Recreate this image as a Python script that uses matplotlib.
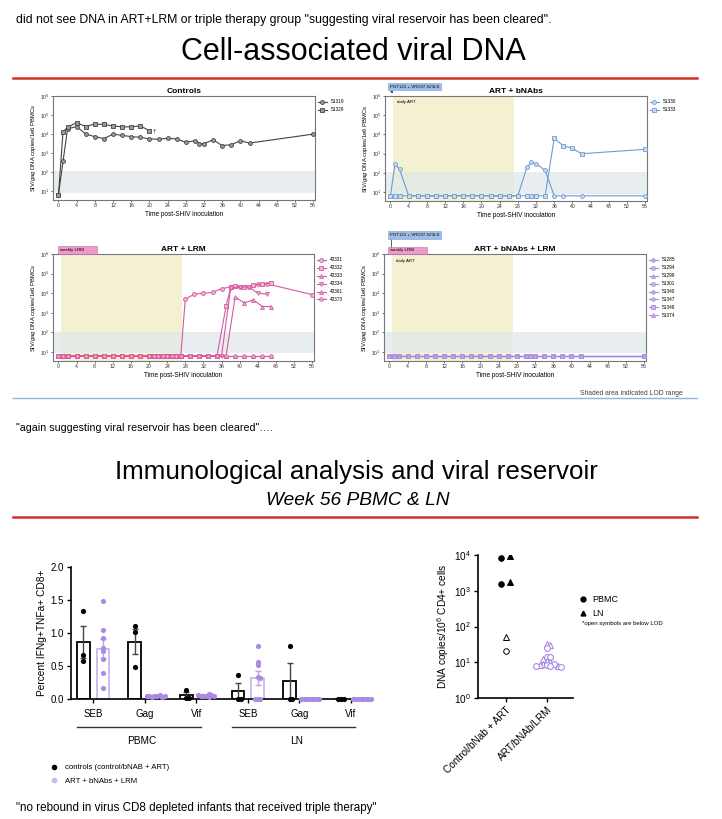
import numpy as np
import matplotlib.pyplot as plt
from matplotlib.lines import Line2D
from matplotlib.ticker import NullLocator

W, H = 722, 819
plt.rcParams['font.family'] = ['Liberation Sans', 'DejaVu Sans']
plt.rcParams['mathtext.fontset'] = 'custom'
plt.rcParams['mathtext.rm'] = 'Liberation Sans'
plt.rcParams['mathtext.it'] = 'Liberation Sans:italic'

LOD = 6.5  # value plotted for samples below detection

# ---- cell-associated viral DNA (copies / 1e6 PBMC) vs week ----
ctrl_ids = ['51319', '51329']
ctrl_weeks = [[0, 1, 2, 4, 6, 8, 10, 12, 14, 16, 18, 20, 22, 24, 26, 28, 30, 31, 32, 34, 36, 38, 40, 42, 56],
              [0, 1, 2, 4, 6, 8, 10, 12, 14, 16, 18, 20]]
ctrl_dna = [[LOD, 370, 1.9e4, 2.5e4, 1.0e4, 7.4e3, 5.8e3, 1.0e4, 8.6e3, 7.4e3, 6.8e3, 5.6e3, 5.4e3,
             6.0e3, 5.6e3, 3.7e3, 4.5e3, 3.2e3, 3.2e3, 5.0e3, 2.5e3, 2.8e3, 4.5e3, 3.4e3, 1.0e4],
            [LOD, 1.3e4, 2.3e4, 4.0e4, 2.5e4, 3.4e4, 3.2e4, 2.7e4, 2.4e4, 2.4e4, 2.7e4, 1.5e4]]

bnab_ids = ['51330', '51333']
bnab_weeks = [[0, 1, 2, 4, 6, 8, 10, 12, 14, 16, 18, 20, 22, 24, 26, 28, 30, 31, 32, 34, 36, 38, 42, 56],
              [0, 1, 2, 4, 6, 8, 10, 12, 14, 16, 18, 20, 22, 24, 26, 28, 30, 31, 32, 34, 36, 38, 40, 42, 56]]
bnab_dna = [[LOD, 300, 155, LOD, LOD, LOD, LOD, LOD, LOD, LOD, LOD, LOD, LOD, LOD, LOD, LOD,
             200, 360, 300, 137, LOD, LOD, LOD, LOD],
            [LOD, LOD, LOD, LOD, LOD, LOD, LOD, LOD, LOD, LOD, LOD, LOD, LOD, LOD, LOD, LOD,
             LOD, LOD, LOD, LOD, 6.3e3, 2.6e3, 1.9e3, 1.0e3, 1.7e3]]

lrm_ids = ['40331', '40332', '40333', '40334', '40361', '40373']
lrm_art_weeks = [0, 1, 2, 4, 6, 8, 10, 12, 14, 16, 18, 20, 21, 22, 23, 24, 25, 26, 27]  # all <LOD on ART
lrm_late_weeks = [[28, 30, 32, 34, 36, 38, 40, 42, 44, 46, 56],
                  [29, 31, 33, 35, 37, 38, 39, 41, 43, 45, 47],
                  [29, 31, 33, 35, 37, 39, 41, 43, 45, 47],
                  [29, 31, 33, 35, 36, 38, 40, 42, 44, 46],
                  [29, 31, 33, 35, 37, 39, 41, 43, 45, 47],
                  [29, 31, 33, 35, 37, 39, 41, 43, 45, 47]]
lrm_late_dna = [[5.0e3, 9.0e3, 1.0e4, 1.1e4, 1.7e4, 2.1e4, 2.0e4, 2.2e4, 2.8e4, 3.0e4, 8.5e3],
                [LOD, LOD, LOD, LOD, 2.2e3, 2.0e4, 2.4e4, 2.0e4, 2.6e4, 2.9e4, 3.3e4],
                [LOD, LOD, LOD, LOD, LOD, 6.5e3, 3.2e3, 4.6e3, 2.1e3, 2.1e3],
                [LOD, LOD, LOD, LOD, LOD, 1.8e4, 2.1e4, 2.1e4, 1.0e4, 9.0e3],
                [LOD, LOD, LOD, LOD, LOD, LOD, LOD, LOD, LOD, LOD],
                [LOD, LOD, LOD, LOD, LOD, LOD, LOD, LOD, LOD, LOD]]

triple_ids = ['51285', '51294', '51299', '51301', '51340', '51347', '51348', '51374']
triple_weeks = [0, 1, 2, 4, 6, 8, 10, 12, 14, 16, 18, 20, 22, 24, 26, 28, 30, 31, 32, 34, 36, 38, 40, 42, 56]
# every triple-therapy animal stayed below LOD at every visit

# ---- week 56 CD8 responses (% IFNg+TNFa+ CD8+) ----
stim_labels = ['SEB', 'Gag', 'Vif', 'SEB', 'Gag', 'Vif']
tissues = ['PBMC', 'LN']
ctrl_resp = [[1.34, 0.66, 0.58], [1.10, 1.02, 0.49], [0.14, 0.02, 0.02],
             [0.37, 0.0, 0.0], [0.81, 0.0, 0.0], [0.0, 0.0, 0.0]]
triple_resp = [[1.48, 1.05, 0.93, 0.77, 0.73, 0.60, 0.39, 0.17],
               [0.04, 0.05, 0.03, 0.06, 0.04, 0.03, 0.05, 0.04],
               [0.05, 0.07, 0.04, 0.06, 0.03, 0.05, 0.04, 0.06],
               [0.81, 0.56, 0.51, 0.34, 0.32, 0.0, 0.0, 0.0],
               [0.0, 0.0, 0.0, 0.0, 0.0, 0.0, 0.0, 0.0],
               [0.0, 0.0, 0.0, 0.0, 0.0, 0.0, 0.0, 0.0]]

# ---- week 56 reservoir (DNA copies / 1e6 CD4+) ----
res_groups = ['Control/bNab + ART', 'ART/bNAb/LRM']
ctrl_pbmc = [8.1e3, 1.5e3, 20]
ctrl_pbmc_below = [False, False, True]
ctrl_ln = [9.3e3, 1.8e3, 52]
ctrl_ln_below = [False, False, True]
tri_pbmc = [25, 14, 14, 9, 8.5, 8, 7.8, 7.5]
tri_ln = [32, 31, 12, 11, 10, 9, 8.5, 8]

BLUE = '#6f9bd3'
PINK = '#d6589f'
PURPLE = '#a98be3'
LIGHT_PURPLE = '#c9b7f0'
ART_YELLOW = '#f4f1d2'
LOD_BAND = '#dfe8eb'
RED = '#d2302c'

fig = plt.figure(figsize=(W / 100, H / 100), dpi=100)
fig.patch.set_facecolor('white')


def px_axes(x0, y0, x1, y1):
    return fig.add_axes([x0 / W, 1 - y1 / H, (x1 - x0) / W, (y1 - y0) / H])


def fx(x):
    return x / W


def fy(y):
    return 1 - y / H


def swarm(vals, to_px, d):
    # tiny beeswarm: push markers sideways (px) until they stop overlapping
    placed, offs = [], []
    for v in vals:
        y = to_px(v)
        for k in [0, 1, -1, 2, -2, 3, -3, 4, -4, 5, -5, 6, -6]:
            x = k * d
            if all((x - a) ** 2 + (y - b) ** 2 >= 0.99 * d * d for a, b in placed):
                break
        placed.append((x, y))
        offs.append(x)
    return np.array(offs)


def dna_panel(ax, title, series, color, face, art=False):
    if art:
        ax.axvspan(0.6, 27.2, color=ART_YELLOW, lw=0, zorder=0)
    ax.axhspan(8.5, 110, color=LOD_BAND, alpha=0.7, lw=0, zorder=0.5)
    for name, wk, vals, mk in series:
        ax.plot(wk, vals, marker=mk, ms=2.8, lw=0.8, color=color, mfc=face, mec=color,
                mew=0.6, label=name, clip_on=False, zorder=3)
    ax.set_yscale('log')
    ax.set_ylim(3.5, 1e6)
    ax.set_xlim(-1.2, 56.4)
    ax.set_xticks(range(0, 57, 4))
    ax.set_yticks([10, 1e2, 1e3, 1e4, 1e5, 1e6])
    ax.yaxis.set_minor_locator(NullLocator())
    ax.tick_params(labelsize=3.8, length=1.5, width=0.5, pad=1, colors='#333')
    ax.set_title(title, fontsize=6, fontweight='bold', pad=2)
    ax.set_xlabel('Time post-SHIV inoculation', fontsize=4.7, labelpad=1.5)
    ax.set_ylabel('SIV/$\\it{gag}$ DNA copies/1e6 PBMCs', fontsize=4.2, labelpad=1)
    for s in ax.spines.values():
        s.set_color('#777')
        s.set_linewidth(0.8)
    ax.legend(loc='upper left', bbox_to_anchor=(1.005, 0.985), frameon=False, fontsize=3.4,
              handlelength=1.8, labelspacing=0.62, borderaxespad=0)


def tag(x, y, text, fc, ec):
    fig.text(fx(x), fy(y), text, fontsize=3.2, va='center', ha='left',
             bbox=dict(boxstyle='square,pad=0.35', fc=fc, ec=ec, lw=0.4))


# ---------------- free text and slide headings ----------------
fig.text(fx(16), fy(20), 'did not see DNA in ART+LRM or triple therapy group "suggesting viral reservoir has been cleared".',
         fontsize=8.8, va='center')
fig.text(fx(353), fy(52), 'Cell-associated viral DNA', fontsize=22, ha='center', va='center')
fig.add_artist(Line2D([fx(13), fx(697)], [fy(78), fy(78)], color=RED, lw=1.8))

# ---------------- four DNA panels ----------------
ax1 = px_axes(53, 96, 315, 200)
dna_panel(ax1, 'Controls',
          [(ctrl_ids[0], ctrl_weeks[0], ctrl_dna[0], 'o'),
           (ctrl_ids[1], ctrl_weeks[1], ctrl_dna[1], 's')],
          '#444', '#9a9a9a')
ax1.text(ctrl_weeks[1][-1] + 0.8, ctrl_dna[1][-1], '\u2020', fontsize=4.5, va='center')

ax2 = px_axes(385, 96, 647, 201)
dna_panel(ax2, 'ART + bNAbs',
          [(bnab_ids[0], bnab_weeks[0], bnab_dna[0], 'o'),
           (bnab_ids[1], bnab_weeks[1], bnab_dna[1], 's')],
          BLUE, '#c9dbf1', art=True)
ax2.text(1.4, 5e5, 'daily ART', fontsize=3.2, va='center')
tag(390, 86.5, 'PGT121 + VRC07-523LS', '#9dbde6', '#7aa2d6')
ax2.annotate('', xy=(0.7, 1e6), xytext=(fx(391), fy(90)), textcoords='figure fraction',
             arrowprops=dict(arrowstyle='-|>', lw=0.5, color='#222', mutation_scale=3))

ax3 = px_axes(53, 254, 314, 361)
lrm_markers = ['o', 's', '^', 'v', '^', 'h']
dna_panel(ax3, 'ART + LRM',
          [(lrm_ids[i], lrm_art_weeks + lrm_late_weeks[i], [LOD] * len(lrm_art_weeks) + lrm_late_dna[i],
            lrm_markers[i]) for i in range(len(lrm_ids))],
          PINK, '#efb3d4', art=True)
tag(60, 250, 'weekly LRM         ', '#ec9bcb', '#c86aa5')

ax4 = px_axes(384, 254, 646, 361)
triple_markers = ['P', 'o', '^', 'o', 'P', 'h', 's', '^']
dna_panel(ax4, 'ART + bNAbs + LRM',
          [(triple_ids[i], triple_weeks, [LOD] * len(triple_weeks), triple_markers[i])
           for i in range(len(triple_ids))],
          PURPLE, '#cbb9f2', art=True)
ax4.text(1.4, 4.2e5, 'daily ART', fontsize=3.2, va='center')
tag(390, 235, 'PGT121 + VRC07-523LS', '#9dbde6', '#7aa2d6')
tag(390, 250.5, 'weekly LRM         ', '#ec9bcb', '#c86aa5')
fig.add_artist(Line2D([fx(391), fx(391)], [fy(238), fy(247)], color='#222', lw=0.5))

fig.text(fx(683), fy(393), 'Shaded area indicated LOD range', fontsize=4.9, ha='right', va='center', color='#444')
fig.add_artist(Line2D([fx(13), fx(697)], [fy(398), fy(398)], color='#8db6da', lw=1))

# ---------------- second slide ----------------
fig.text(fx(16), fy(428), '"again suggesting viral reservoir has been cleared"\u2026.', fontsize=7.7, va='center')
fig.text(fx(356), fy(472), 'Immunological analysis and viral reservoir', fontsize=18.7, ha='center', va='center')
fig.text(fx(358), fy(500), 'Week 56 PBMC & LN', fontsize=13.8, ha='center', va='center', style='italic')
fig.add_artist(Line2D([fx(13), fx(697)], [fy(517), fy(517)], color=RED, lw=1.8))

# bar chart: % IFNg+TNFa+ CD8+
axb = px_axes(71, 567, 373, 699)
x = np.arange(len(stim_labels))
bw = 0.25
dx = 0.19
xpx = 51.6   # px per category
ypx = 66.0   # px per unit
for i in range(len(stim_labels)):
    for pts, off, col, ecol, fcol in [(ctrl_resp[i], -dx, 'black', '#444', 'black'),
                                      (triple_resp[i], dx, LIGHT_PURPLE, '#b7a4e6', PURPLE)]:
        pts = np.array(pts)
        m = pts.mean()
        sem = pts.std(ddof=1) / np.sqrt(len(pts))
        axb.bar(x[i] + off, m, width=bw, facecolor='white', edgecolor=col, lw=1.3, zorder=2)
        if m > 0.02:
            axb.errorbar(x[i] + off, m, yerr=sem, fmt='none', ecolor=ecol, elinewidth=1,
                         capsize=2.5, capthick=1, zorder=3)
        offs = swarm(pts, lambda v: v * ypx, 2.6) / xpx
        axb.scatter(x[i] + off + offs, pts, s=14, color=fcol, zorder=4, clip_on=False, lw=0)

axb.set_xlim(-0.43, 5.43)
axb.set_ylim(0, 2.0)
axb.set_yticks([0, 0.5, 1.0, 1.5, 2.0])
axb.set_yticklabels(['0.0', '0.5', '1.0', '1.5', '2.0'])
axb.set_xticks(x)
axb.set_xticklabels(stim_labels)
axb.tick_params(labelsize=7, length=3, width=1, pad=2)
axb.tick_params(axis='x', pad=4)
axb.spines[['top', 'right']].set_visible(False)
for s in ['left', 'bottom']:
    axb.spines[s].set_linewidth(1.2)
axb.set_ylabel('Percent IFNg+TNFa+ CD8+', fontsize=7.3, labelpad=3)
tr = axb.get_xaxis_transform()
for j, name in enumerate(tissues):
    lo, hi = 3 * j - 0.31, 3 * j + 2.09
    axb.plot([lo, hi], [-0.21, -0.21], color='#333', lw=1, transform=tr, clip_on=False)
    axb.text((lo + hi) / 2 + 0.05, -0.32, name, transform=tr, ha='center', va='center', fontsize=7.3)

handles = [Line2D([], [], ls='none', marker='o', ms=3, color='black'),
           Line2D([], [], ls='none', marker='o', ms=3, color=LIGHT_PURPLE)]
fig.legend(handles, ['controls (control/bNAB + ART)', 'ART + bNAbs + LRM'], loc='upper left',
           bbox_to_anchor=(fx(42), fy(757)), frameon=False, fontsize=5.6, handlelength=1.2,
           handletextpad=0.8, labelspacing=0.8)

# reservoir scatter
axr = px_axes(478, 555, 573, 698)
rx = 41.0     # px per group
dec = 35.7    # px per decade
side = 4.5 / rx
for vals, below, mk, s_off in [(ctrl_pbmc, ctrl_pbmc_below, 'o', -side), (ctrl_ln, ctrl_ln_below, '^', side)]:
    for v, b in zip(vals, below):
        axr.plot(0 + (0 if b else s_off), v, ls='none', marker=mk, ms=4,
                 mfc='white' if b else 'black', mec='black', mew=0.7, zorder=3)
tri_vals = tri_pbmc + tri_ln
tri_mk = ['o'] * len(tri_pbmc) + ['^'] * len(tri_ln)
order = np.argsort(tri_vals)[::-1]
offs = swarm([tri_vals[k] for k in order], lambda v: np.log10(v) * dec, 3.6) / rx
for k, o in zip(order, offs):
    axr.plot(1 + o, tri_vals[k], ls='none', marker=tri_mk[k], ms=4.2, mfc='white',
             mec=PURPLE, mew=0.8, zorder=3)
axr.set_yscale('log')
axr.set_ylim(1, 1e4)
axr.set_yticks([1, 10, 100, 1e3, 1e4])
axr.yaxis.set_minor_locator(NullLocator())
axr.set_xlim(-0.675, 1.64)
axr.set_xticks([0, 1])
axr.set_xticklabels(res_groups, rotation=45, ha='right', rotation_mode='anchor')
axr.tick_params(labelsize=7.2, length=3, width=1, pad=2)
axr.spines[['top', 'right']].set_visible(False)
for s in ['left', 'bottom']:
    axr.spines[s].set_linewidth(1.2)
axr.set_ylabel('DNA copies/10$^6$ CD4+ cells', fontsize=7.3, labelpad=2)
handles = [Line2D([], [], ls='none', marker='o', ms=3.5, color='black'),
           Line2D([], [], ls='none', marker='^', ms=3.5, color='black')]
fig.legend(handles, ['PBMC', 'LN'], loc='upper left', bbox_to_anchor=(fx(570), fy(587)), frameon=False,
           fontsize=6.5, handlelength=1.0, handletextpad=0.6, labelspacing=0.55)
fig.text(fx(582), fy(623), '*open symbols are below LOD', fontsize=4.3, va='center')

fig.text(fx(16), fy(808), '"no rebound in virus CD8 depleted infants that received triple therapy"',
         fontsize=8.4, va='center')

fig.savefig('out.png', dpi=100, facecolor='white')
